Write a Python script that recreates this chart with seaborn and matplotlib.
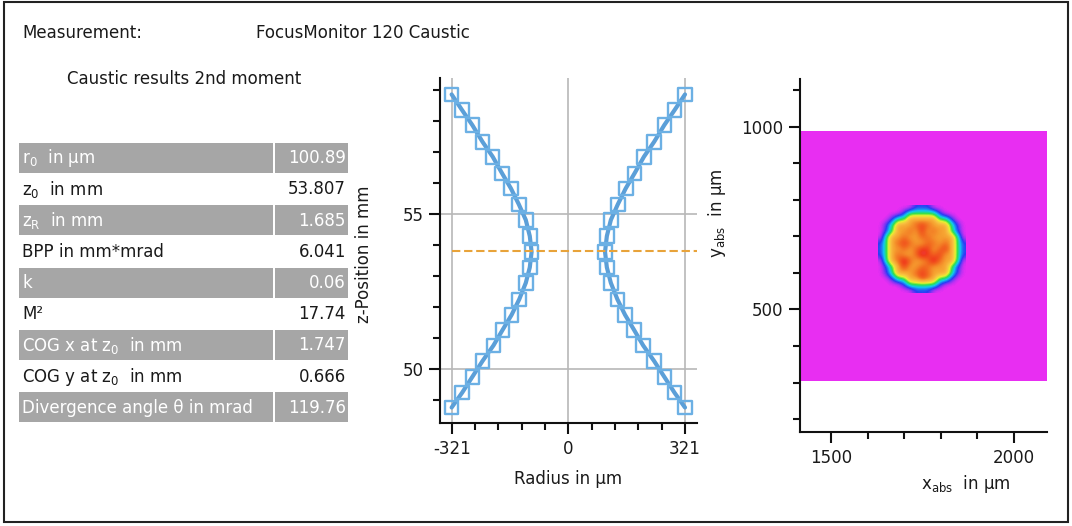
import numpy as np
import pandas as pd
import matplotlib
matplotlib.use('Agg')
import matplotlib.pyplot as plt
from matplotlib.colors import LinearSegmentedColormap
from matplotlib.patches import Rectangle
from matplotlib.ticker import FixedLocator, MultipleLocator
import seaborn as sns

# caustic points (z in mm, radius in um)
z_mm = [48.76, 49.24, 49.75, 50.26, 50.76, 51.26, 51.75, 52.25, 52.78, 53.28, 53.78,
        54.29, 54.81, 55.31, 55.83, 56.31, 56.85, 57.33, 57.87, 58.35, 58.86]
radius_um = [321, 292, 264, 236, 206, 181, 156, 135, 117, 106, 101,
             106, 117, 136, 158, 182, 208, 236, 264, 292, 321]
radius_ticks = [-321, 0, 321]
z_ticks = [50, 55]

# result table
table_labels = ['r$_\\mathregular{0}$  in µm', 'z$_\\mathregular{0}$  in mm', 'z$_\\mathregular{R}$  in mm',
                'BPP in mm*mrad', 'k', 'M²', 'COG x at z$_\\mathregular{0}$  in mm',
                'COG y at z$_\\mathregular{0}$  in mm', 'Divergence angle θ in mrad']
table_values = ['100.89', '53.807', '1.685', '6.041', '0.06', '17.74', '1.747', '0.666', '119.76']
z0_mm = 53.807
cog_x_um = 1747
cog_y_um = 666

# beam profile at the waist, intensity levels 0..9
beam_rows = [
    "000000111000000",
    "000013333310000",
    "001336666633100",
    "013666787666310",
    "013667686766310",
    "036676677666630",
    "136787667767631",
    "136676788678631",
    "136766798786631",
    "036797667976630",
    "013686677666310",
    "013666787666310",
    "001336687633100",
    "000013333310000",
    "000000111000000",
]
beam_cell_um = 16
image_x_um = [1415, 2090]
image_y_um = [304, 986]
x_ticks = [1500, 2000]
y_ticks = [500, 1000]

sns.set_style('ticks')
plt.rcParams['font.family'] = ['DejaVu Sans']
plt.rcParams['axes.unicode_minus'] = False
txt_col = '#1a1a1a'

fig = plt.figure(figsize=(10.72, 5.26), dpi=100)

# background layer in pixel coords: frame, header, table
ax0 = fig.add_axes([0, 0, 1, 1])
ax0.set_xlim(0, 1072)
ax0.set_ylim(526, 0)
ax0.axis('off')
ax0.add_patch(Rectangle((3.5, 2), 1064.5, 519.5, fill=False, ec='#222222', lw=1.5))
ax0.text(22, 33, 'Measurement:', fontsize=12, va='center', color=txt_col)
ax0.text(256, 33, 'FocusMonitor 120 Caustic', fontsize=12, va='center', color=txt_col)
ax0.text(67, 79, 'Caustic results 2nd moment', fontsize=12, va='center', color=txt_col)

top0, pitch = 142.7, 31.2
for i, (lab, val) in enumerate(zip(table_labels, table_values)):
    top = top0 + i * pitch
    gray = i % 2 == 0
    if gray:
        ax0.add_patch(Rectangle((19.3, top), 253.4, pitch - 1.2, fc='#a6a6a6', ec='none'))
        ax0.add_patch(Rectangle((274.7, top), 73.3, pitch - 1.2, fc='#a6a6a6', ec='none'))
    c = 'white' if gray else txt_col
    ax0.text(22.5, top + 15.5, lab, fontsize=12, va='center', color=c)
    ax0.text(346, top + 15.5, val, fontsize=12, va='center', ha='right', color=c)

# caustic plot
ax1 = fig.add_axes([440 / 1072, 103 / 526, 257 / 1072, 345 / 526])
df = pd.concat([
    pd.DataFrame({'r': [-r for r in radius_um], 'z': z_mm, 'side': 'left'}),
    pd.DataFrame({'r': radius_um, 'z': z_mm, 'side': 'right'}),
])
ax1.set_xlim(-353, 354)
ax1.set_ylim(48.26, 59.39)
sns.lineplot(data=df, x='r', y='z', units='side', estimator=None, sort=False,
             color='#5b9fd8', lw=3, ax=ax1, zorder=3)
sns.scatterplot(data=df, x='r', y='z', marker='s', s=95, fc='none', ec='#6cb0e4',
                linewidth=1.7, ax=ax1, zorder=4)
ax1.hlines(z0_mm, radius_ticks[0], ax1.get_xlim()[1], color='#e8a33a', lw=1.5,
           linestyles=(0, (4, 1.8)), zorder=5)
ax1.xaxis.set_major_locator(FixedLocator(radius_ticks))
ax1.xaxis.set_minor_locator(MultipleLocator(64.2))
ax1.yaxis.set_major_locator(FixedLocator(z_ticks))
ax1.yaxis.set_minor_locator(MultipleLocator(1))
ax1.grid(True, which='major', color='#b8b8b8', lw=1.2)
ax1.set_axisbelow(True)
ax1.set_xlabel('Radius in µm', fontsize=12, color=txt_col)
ax1.set_ylabel('z-Position in mm', fontsize=12, color=txt_col)
ax1.xaxis.set_label_coords(0.5, -0.135)
ax1.yaxis.set_label_coords(-0.26, 0.49)

# beam image
colors = ['#e82ef2', '#2a3cf5', '#10c8f0', '#30e050', '#e8f030',
          '#f8c040', '#f6a030', '#f26a20', '#f03a1c', '#e8306e']
cmap = LinearSegmentedColormap.from_list('beam', colors)
beam = np.array([[int(ch) for ch in row] for row in beam_rows])
half = beam.shape[0] * beam_cell_um / 2
ax2 = fig.add_axes([800 / 1072, 94 / 526, 247 / 1072, 353 / 526])
ax2.imshow([[0]], extent=image_x_um + image_y_um, cmap=cmap, vmin=0, vmax=9, aspect='auto')
ax2.imshow(beam, extent=[cog_x_um - half, cog_x_um + half, cog_y_um - half, cog_y_um + half],
           cmap=cmap, vmin=0, vmax=9, aspect='auto', interpolation='bicubic',
           interpolation_stage='data')
ax2.set_xlim(1415, 2090)
ax2.set_ylim(165, 1130)
ax2.xaxis.set_major_locator(FixedLocator(x_ticks))
ax2.xaxis.set_minor_locator(MultipleLocator(100))
ax2.yaxis.set_major_locator(FixedLocator(y_ticks))
ax2.yaxis.set_minor_locator(MultipleLocator(100))
ax2.set_xlabel('x$_\\mathregular{abs}$  in µm', fontsize=12, color=txt_col)
ax2.set_ylabel('y$_\\mathregular{abs}$  in µm', fontsize=12, color=txt_col)
ax2.xaxis.set_label_coords(0.672, -0.115)
ax2.yaxis.set_label_coords(-0.29, 0.62)

for ax in (ax1, ax2):
    sns.despine(ax=ax)
    for s in ('left', 'bottom'):
        ax.spines[s].set_linewidth(1.5)
        ax.spines[s].set_color('#111111')
    ax.tick_params(which='major', length=8, width=1.5, color='#111111', labelsize=12,
                   labelcolor=txt_col, pad=4)
    ax.tick_params(which='minor', length=5, width=1.5, color='#111111')

fig.savefig('out.png', dpi=100)
